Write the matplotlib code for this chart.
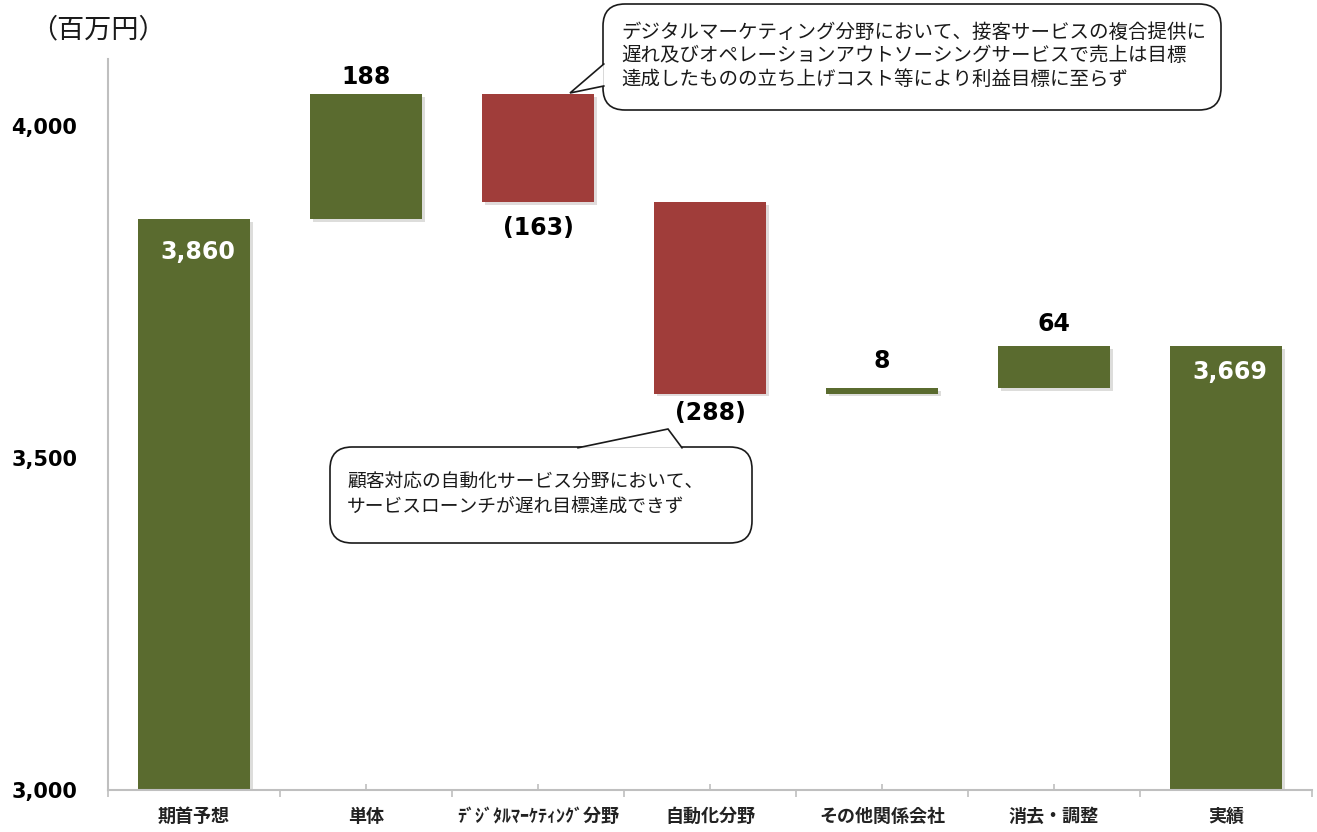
import numpy as np
import matplotlib.pyplot as plt
from matplotlib.patches import FancyBboxPatch, Polygon
import matplotlib.patheffects as pe

plt.rcParams['font.family'] = ['Noto Sans CJK JP', 'DejaVu Sans']

# data (百万円)
categories = ['期首予想', '単体', 'ﾃﾞｼﾞﾀﾙﾏｰｹﾃｨﾝｸﾞ分野', '自動化分野',
              'その他関係会社', '消去・調整', '実績']
start_value = 3860
deltas = [188, -163, -288, 8, 64]
end_value = 3669
delta_labels = ['188', '(163)', '(288)', '8', '64']

note_digital = ('デジタルマーケティング分野において、接客サービスの複合提供に\n'
                '遅れ及びオペレーションアウトソーシングサービスで売上は目標\n'
                '達成したものの立ち上げコスト等により利益目標に至らず')
note_auto = ('顧客対応の自動化サービス分野において、\n'
             'サービスローンチが遅れ目標達成できず')

GREEN = '#5A6B2F'
RED = '#A03D3A'
GRID = '#BFBFBF'

fig = plt.figure(figsize=(13.17, 8.32), dpi=100)
ax = fig.add_axes([108 / 1317, 42 / 832, 1204 / 1317, 731 / 832])

shadow = [pe.SimplePatchShadow(offset=(2, -2), alpha=0.15), pe.Normal()]
w = 0.65
x = np.arange(len(categories))

# total bars
ax.bar(x[0], start_value, width=w, color=GREEN, path_effects=shadow, zorder=2)
ax.bar(x[-1], end_value, width=w, color=GREEN, path_effects=shadow, zorder=2)

# floating bars
running = start_value
label_gap = [4, 10, 5, 11, 7]
for i, d in enumerate(deltas):
    new = running + d
    lo = min(running, new)
    ax.bar(x[i + 1], abs(d), bottom=lo, width=w,
           color=GREEN if d >= 0 else RED, path_effects=shadow, zorder=2)
    if d >= 0:
        ax.annotate(delta_labels[i], (x[i + 1], new), xytext=(0, label_gap[i]),
                    textcoords='offset points', ha='center', va='bottom',
                    fontsize=17, fontweight='bold', family='DejaVu Sans')
    else:
        ax.annotate(delta_labels[i], (x[i + 1], new), xytext=(0, -label_gap[i]),
                    textcoords='offset points', ha='center', va='top',
                    fontsize=17, fontweight='bold', family='DejaVu Sans')
    running = new

for xi, v, off in [(x[0], start_value, -24), (x[-1], end_value, -19)]:
    ax.annotate(f'{v:,}', (xi, v), xytext=(3, off), textcoords='offset points',
                ha='center', va='center', fontsize=17, fontweight='bold',
                color='white', family='DejaVu Sans')

ax.set_xlim(-0.5, len(categories) - 0.5)
ax.set_ylim(3000, 4101)
ax.set_yticks([3000, 3500, 4000])
ax.set_yticklabels([f'{t:,}' for t in [3000, 3500, 4000]],
                   fontsize=15, fontweight='bold', family='DejaVu Sans')
ax.tick_params(axis='y', length=0, pad=22)

ax.set_xticks(x)
ax.set_xticklabels(categories, fontsize=13, fontweight='bold', color='#222222')
ax.set_xticks(np.arange(-0.5, len(categories)), minor=True)
ax.tick_params(axis='x', which='major', direction='in', length=4,
               color=GRID, width=1.2, pad=12)
ax.tick_params(axis='x', which='minor', direction='out', length=5,
               color=GRID, width=1.2)

for side in ['top', 'right']:
    ax.spines[side].set_visible(False)
for side in ['left', 'bottom']:
    ax.spines[side].set_color(GRID)
    ax.spines[side].set_linewidth(1.5)

fig.text(30 / 1317, 1 - 30 / 832, '（百万円）', fontsize=19.5,
         va='center', ha='left', color='#1a1a1a')

# callouts, drawn on an overlay in pixel units
ov = fig.add_axes([0, 0, 1, 1], facecolor='none')
ov.set_xlim(0, 1317)
ov.set_ylim(832, 0)
ov.axis('off')


def callout(x0, y0, bw, bh, tail, text, fs, tx, ty):
    box = FancyBboxPatch((x0, y0), bw, bh, boxstyle='round,pad=0,rounding_size=22',
                         facecolor='white', edgecolor='#1a1a1a', lw=1.2, zorder=3)
    ov.add_patch(box)
    (b1, apex, b2) = tail
    ov.add_patch(Polygon([b1, apex, b2], closed=True, facecolor='white',
                         edgecolor='none', zorder=4))
    ov.plot([b1[0], apex[0], b2[0]], [b1[1], apex[1], b2[1]],
            color='#1a1a1a', lw=1.2, zorder=5, solid_joinstyle='miter')
    ov.text(tx, ty, text, fontsize=fs, va='top', ha='left', color='#1a1a1a',
            linespacing=1.15, zorder=6)


callout(603, 4, 618, 106, [(603.8, 64), (570, 93), (603.8, 86)],
        note_digital, 14, 621, 22)
callout(330, 447, 422, 96, [(578, 447.8), (668, 429), (682, 447.8)],
        note_auto, 13.5, 347, 472)

fig.savefig('out.png', dpi=100)
